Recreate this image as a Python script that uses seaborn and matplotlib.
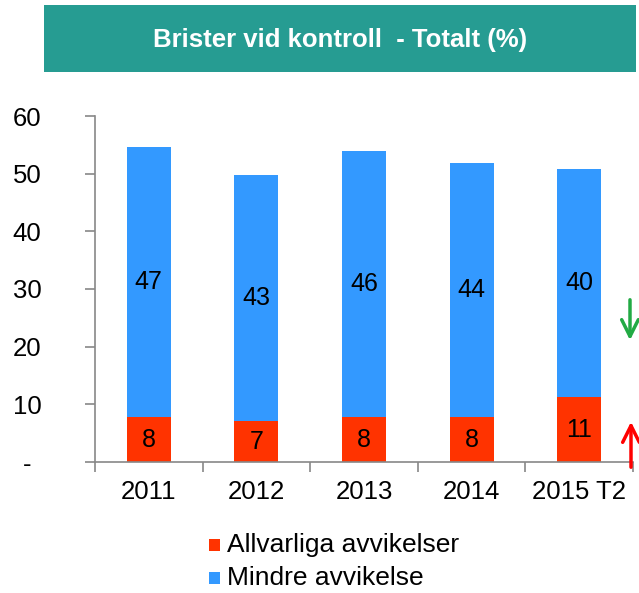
import matplotlib
matplotlib.use("Agg")
import matplotlib.pyplot as plt
import seaborn as sns
import pandas as pd
import numpy as np
from matplotlib.patches import Rectangle

years = ["2011", "2012", "2013", "2014", "2015 T2"]
allvarliga = [7.8, 7.1, 7.8, 7.8, 11.2]
mindre = [46.9, 42.6, 46.2, 44.1, 39.6]
allvarliga_labels = ["8", "7", "8", "8", "11"]
mindre_labels = ["47", "43", "46", "44", "40"]
yticks = [0, 10, 20, 30, 40, 50, 60]
ytick_labels = ["-", "10", "20", "30", "40", "50", "60"]

title = "Brister vid kontroll  - Totalt (%)"
red = "#FF3300"
blue = "#3399FF"

sns.set_theme(style="white")
plt.rcParams["font.family"] = ["Liberation Sans", "DejaVu Sans"]

df = pd.DataFrame({"year": years, "allvarliga": allvarliga, "mindre": mindre})
df["total"] = df["allvarliga"] + df["mindre"]

fig = plt.figure(figsize=(6.39, 5.93), dpi=100)
ax = fig.add_axes([95/639, 1-462/593, (633-95)/639, (462-116)/593])

sns.barplot(data=df, x="year", y="total", color=blue, saturation=1, width=0.41, ax=ax, linewidth=0)
sns.barplot(data=df, x="year", y="allvarliga", color=red, saturation=1, width=0.41, ax=ax, linewidth=0)

for i in range(len(years)):
    ax.text(i, allvarliga[i]/2, allvarliga_labels[i], ha="center", va="center", fontsize=18, color="black")
    ax.text(i, allvarliga[i] + mindre[i]/2, mindre_labels[i], ha="center", va="center", fontsize=18, color="black")

ax.set_xlim(-0.49, 4.5)
ax.set_ylim(0, 60)
ax.set_yticks(yticks)
ax.set_yticklabels(ytick_labels)
ax.set_xlabel("")
ax.set_ylabel("")
ax.set_xticks(range(len(years)))
ax.set_xticklabels(years)
ax.set_xticks(np.arange(-0.5, len(years), 1.0), minor=True)
ax.tick_params(axis="x", which="major", bottom=False, length=0, labelsize=18.5, pad=13, labelcolor="black")
ax.tick_params(axis="x", which="minor", bottom=True, length=7, width=1.2, color="#888888", direction="out")
ax.tick_params(axis="y", left=True, length=7, width=1.2, color="#888888", direction="out",
               labelsize=18.5, pad=42, labelcolor="black")
for lbl in ax.get_yticklabels():
    lbl.set_horizontalalignment("center")
for s in ["top", "right"]:
    ax.spines[s].set_visible(False)
for s in ["left", "bottom"]:
    ax.spines[s].set_color("#888888")
    ax.spines[s].set_linewidth(1.2)

# title box
fig.patches.append(Rectangle((44/639, 1-72/593), (636-44)/639, (72-5)/593,
                             transform=fig.transFigure, facecolor="#269C92", edgecolor="none"))
fig.text((44+636)/2/639, 1-40/593, title, ha="center", va="center", fontsize=18.5,
         fontweight="bold", color="white")

# arrows
ax.annotate("", xy=(630/639, 1-343/593), xytext=(630/639, 1-297/593), xycoords="figure fraction",
            textcoords="figure fraction", annotation_clip=False,
            arrowprops=dict(arrowstyle="->", color="#22AA44", lw=2.5, mutation_scale=30))
ax.annotate("", xy=(631/639, 1-419/593), xytext=(631/639, 1-470/593), xycoords="figure fraction",
            textcoords="figure fraction", annotation_clip=False,
            arrowprops=dict(arrowstyle="->", color="#FF0000", lw=2.5, mutation_scale=30))

# legend
for yy, c, lab in [(545, red, "Allvarliga avvikelser"), (578, blue, "Mindre avvikelse")]:
    fig.patches.append(Rectangle((209/639, 1-(yy+6)/593), 11/639, 12/593,
                                 transform=fig.transFigure, facecolor=c, edgecolor="none"))
    fig.text(227/639, 1-yy/593, lab, ha="left", va="center", fontsize=19, color="black")

fig.savefig("out.png", dpi=100)
